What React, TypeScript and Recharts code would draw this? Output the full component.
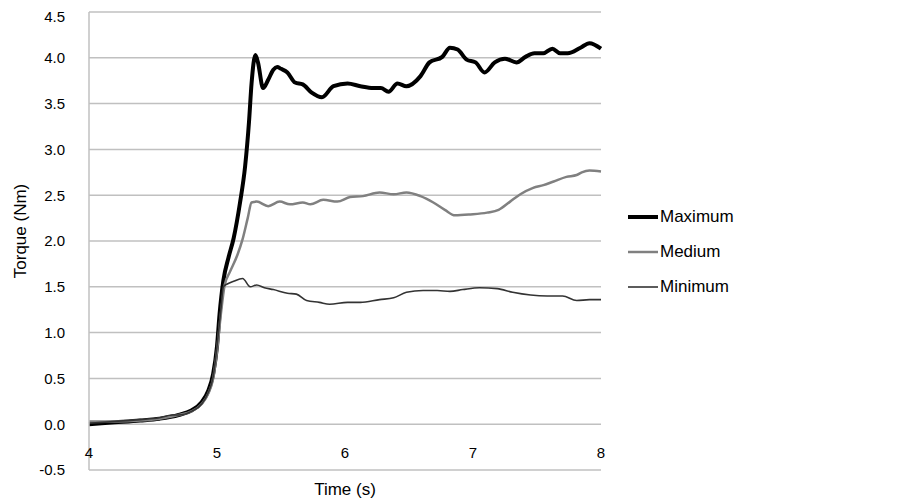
import React from "react";
import {
  LineChart,
  Line,
  XAxis,
  YAxis,
  CartesianGrid,
  Legend,
} from "recharts";

// Torque traces (time in s, torque in Nm)
const maxTime = [
  4.0, 4.2, 4.4, 4.55, 4.7, 4.8, 4.88, 4.93, 4.97, 5.0, 5.02, 5.05, 5.09, 5.13,
  5.18, 5.22, 5.25, 5.27, 5.3, 5.32, 5.36, 5.4, 5.44, 5.47, 5.5, 5.55, 5.61,
  5.67, 5.74, 5.82, 5.91, 6.02, 6.12, 6.22, 6.28, 6.34, 6.41, 6.48, 6.59, 6.66,
  6.76, 6.82, 6.88, 6.95, 7.02, 7.09, 7.17, 7.25, 7.34, 7.41, 7.48, 7.55, 7.62,
  7.68, 7.74, 7.84, 7.91, 8.0,
];
const maxTorque = [
  0.0, 0.02, 0.04, 0.06, 0.1, 0.15, 0.24, 0.36, 0.55, 0.85, 1.2, 1.57, 1.82,
  2.03, 2.42, 2.82, 3.3, 3.72, 4.03, 3.95, 3.67, 3.76, 3.87, 3.9, 3.88, 3.84,
  3.73, 3.71, 3.62, 3.57, 3.69, 3.72, 3.69, 3.67, 3.67, 3.63, 3.72, 3.69, 3.8,
  3.95, 4.01, 4.11, 4.09, 3.98, 3.95, 3.84, 3.95, 3.99, 3.95, 4.01, 4.05, 4.05,
  4.1, 4.05, 4.05, 4.11, 4.16, 4.1,
];

const medTime = [
  4.0, 4.2, 4.4, 4.55, 4.7, 4.8, 4.88, 4.93, 4.97, 5.0, 5.03, 5.06, 5.1, 5.16,
  5.2, 5.24, 5.27, 5.31, 5.4, 5.49, 5.57, 5.67, 5.73, 5.83, 5.94, 6.04, 6.14,
  6.27, 6.38, 6.48, 6.59, 6.69, 6.78, 6.86, 6.98, 7.11, 7.2, 7.29, 7.37, 7.47,
  7.55, 7.63, 7.73, 7.81, 7.85, 7.91, 8.0,
];
const medTorque = [
  0.03, 0.03, 0.04, 0.06, 0.1, 0.14, 0.22, 0.33, 0.5, 0.8, 1.2, 1.52, 1.66,
  1.85, 2.02, 2.25, 2.42, 2.43, 2.38, 2.43, 2.4, 2.42, 2.4, 2.45, 2.43, 2.48,
  2.49, 2.53, 2.51, 2.53, 2.49, 2.42, 2.34, 2.28, 2.29, 2.31, 2.34, 2.43, 2.51,
  2.58, 2.61, 2.65, 2.7, 2.72, 2.75, 2.77, 2.76,
];

const minTime = [
  4.0, 4.2, 4.4, 4.55, 4.65, 4.7, 4.8, 4.88, 4.93, 4.97, 5.0, 5.03, 5.05, 5.08,
  5.13, 5.2, 5.26, 5.31, 5.37, 5.44, 5.55, 5.62, 5.7, 5.8, 5.88, 6.02, 6.12,
  6.27, 6.38, 6.48, 6.61, 6.72, 6.82, 6.92, 7.05, 7.19, 7.31, 7.45, 7.58, 7.7,
  7.81, 7.91, 8.0,
];
const minTorque = [
  0.01, 0.03, 0.05, 0.07, 0.1, 0.1, 0.14, 0.22, 0.34, 0.52, 0.85, 1.25, 1.5,
  1.53, 1.56, 1.59, 1.5, 1.52, 1.49, 1.47, 1.43, 1.42, 1.35, 1.33, 1.31, 1.33,
  1.33, 1.36, 1.38, 1.44, 1.46, 1.46, 1.45, 1.47, 1.49, 1.48, 1.44, 1.41, 1.4,
  1.4, 1.35, 1.36, 1.36,
];

const xTicks = [4, 5, 6, 7, 8];
const yTicks = [-0.5, 0, 0.5, 1, 1.5, 2, 2.5, 3, 3.5, 4, 4.5];

const toPoints = (ts: number[], vs: number[]) =>
  ts.map((t, i) => ({ t, v: vs[i] }));

const series = [
  { name: "Maximum", data: toPoints(maxTime, maxTorque), color: "#000000", width: 4 },
  { name: "Medium", data: toPoints(medTime, medTorque), color: "#808080", width: 2.5 },
  { name: "Minimum", data: toPoints(minTime, minTorque), color: "#333333", width: 1.6 },
];

const FONT = "'Liberation Sans', Arial, sans-serif";

// x labels sit just under the 0.0 line, like the axis crosses at zero
const XTick = (props: any) => {
  const { x, y, payload } = props;
  return (
    <text
      x={x}
      y={y - 18}
      textAnchor="middle"
      dominantBaseline="central"
      fontSize={15}
      fontFamily={FONT}
      fill="#000"
    >
      {payload.value}
    </text>
  );
};

const YTitle = (props: any) => {
  const { viewBox } = props;
  const cx = viewBox.x + 12;
  const cy = viewBox.y + viewBox.height / 2 - 10;
  return (
    <text
      x={cx}
      y={cy}
      transform={`rotate(-90, ${cx}, ${cy})`}
      textAnchor="middle"
      dominantBaseline="central"
      fontSize={17}
      fontFamily={FONT}
      fill="#000"
    >
      Torque (Nm)
    </text>
  );
};

const LegendBox = () => (
  <div style={{ fontFamily: FONT, fontSize: 17, color: "#000" }}>
    {series.map((s) => (
      <div
        key={s.name}
        style={{ display: "flex", alignItems: "center", height: 35 }}
      >
        <svg width={32} height={10} style={{ marginRight: 1 }}>
          <line x1={1} y1={5} x2={31} y2={5} stroke={s.color} strokeWidth={s.width} />
        </svg>
        <span>{s.name}</span>
      </div>
    ))}
  </div>
);

export default function App() {
  return (
    <div style={{ width: 895, height: 495, background: "#fff" }}>
      <LineChart
        width={895}
        height={495}
        margin={{ top: 4, right: 302, bottom: 0, left: 0 }}
      >
        <CartesianGrid
          horizontal
          vertical={false}
          stroke="#c0c0c0"
          strokeWidth={1.5}
        />
        <XAxis
          type="number"
          dataKey="t"
          domain={[4, 8]}
          ticks={xTicks}
          allowDuplicatedCategory={false}
          axisLine={false}
          tickLine={false}
          tickSize={0}
          tickMargin={0}
          height={33}
          tick={<XTick />}
          label={{
            value: "Time (s)",
            position: "insideBottom",
            offset: 8,
            fontSize: 17,
            fontFamily: FONT,
            fill: "#000",
          }}
        />
        <YAxis
          type="number"
          domain={[-0.5, 4.5]}
          ticks={yTicks}
          width={81}
          axisLine={{ stroke: "#c0c0c0", strokeWidth: 1.5 }}
          tickLine={false}
          tickSize={0}
          tickMargin={24}
          tickFormatter={(v: number) => v.toFixed(1)}
          tick={{ fontSize: 15, fontFamily: FONT, fill: "#000" }}
          label={<YTitle />}
        />
        <Legend
          layout="vertical"
          align="center"
          verticalAlign="middle"
          content={<LegendBox />}
          wrapperStyle={{ left: 619, top: 191, width: 150 }}
        />
        {series.map((s) => (
          <Line
            key={s.name}
            name={s.name}
            data={s.data}
            dataKey="v"
            type="monotone"
            stroke={s.color}
            strokeWidth={s.width}
            dot={false}
            activeDot={false}
            isAnimationActive={false}
          />
        ))}
      </LineChart>
    </div>
  );
}
